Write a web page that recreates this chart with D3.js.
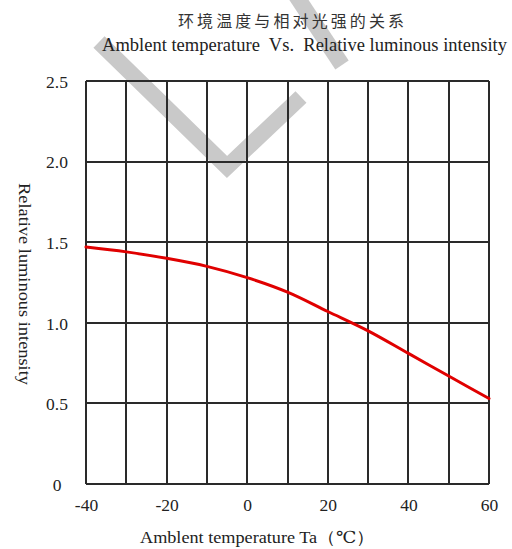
<!DOCTYPE html>
<html><head><meta charset="utf-8">
<script src="https://cdn.jsdelivr.net/npm/d3@7"></script>
<style>body{margin:0;background:#fff}svg{display:block}</style>
</head><body><svg id="c" width="512" height="549"></svg>
<script>
// ---- data ----
const temps = [-40, -30, -20, -10, 0, 10, 20, 30, 40, 50, 60];
const intensity = [1.47, 1.44, 1.40, 1.35, 1.28, 1.19, 1.07, 0.95, 0.81, 0.67, 0.53];
const xTicks = [-40, -20, 0, 20, 40, 60];
const xGrid = [-40, -30, -20, -10, 0, 10, 20, 30, 40, 50, 60];
const yTicks = [0, 0.5, 1.0, 1.5, 2.0, 2.5];
const yTickLabels = ["0", "0.5", "1.0", "1.5", "2.0", "2.5"];
const titleCn = "环境温度与相对光强的关系";
const titleEn = "Amblent temperature  Vs.  Relative luminous intensity";
const xTitle = "Amblent temperature Ta（℃）";
const yTitle = "Relative luminous intensity";

// ---- layout ----
const svg = d3.select("#c");
const x = d3.scaleLinear().domain([-40, 60]).range([86, 489]);
const y = d3.scaleLinear().domain([0, 2.5]).range([484, 81]);
const serif = "'Liberation Serif','DejaVu Serif',serif";
const gridColor = "#2a2a2a";

// watermark (decorative)
const wm = svg.append("g").attr("fill", "none").attr("stroke", "#c9c9c9")
  .attr("stroke-width", 16).attr("stroke-linejoin", "miter").attr("stroke-linecap", "butt");
wm.append("path").attr("d", "M99,42 L227,167 L301,97");
wm.append("path").attr("d", "M291,-12 L342,65");

// grid
const grid = svg.append("g").attr("stroke", gridColor).attr("stroke-width", 1.3).attr("shape-rendering", "crispEdges");
grid.selectAll("line.v").data(xGrid).join("line").attr("class", "v")
  .attr("x1", d => Math.round(x(d))).attr("x2", d => Math.round(x(d)))
  .attr("y1", y(2.5)).attr("y2", y(0));
grid.selectAll("line.h").data(yTicks).join("line").attr("class", "h")
  .attr("y1", d => Math.round(y(d))).attr("y2", d => Math.round(y(d)))
  .attr("x1", x(-40)).attr("x2", x(60));

// axes labels
const yAxis = svg.append("g").attr("transform", `translate(${x(-40)},0)`)
  .call(d3.axisLeft(y).tickValues(yTicks).tickSize(0).tickFormat((d, i) => yTickLabels[i]));
yAxis.attr("font-family", null).attr("font-size", null);
yAxis.select(".domain").remove();
yAxis.selectAll("text").attr("x", -29).attr("dy", "0.36em").attr("text-anchor", "middle")
  .style("font-family", serif).style("font-size", "17.5px").attr("fill", "#222");

const xAxis = svg.append("g").attr("transform", `translate(0,${y(0)})`)
  .call(d3.axisBottom(x).tickValues(xTicks).tickSize(0).tickFormat(d => String(d)));
xAxis.attr("font-family", null).attr("font-size", null);
xAxis.select(".domain").remove();
xAxis.selectAll("text").attr("y", 27).attr("dy", 0).attr("text-anchor", "middle")
  .style("font-family", serif).style("font-size", "17.5px").attr("fill", "#222");

// curve
const pts = temps.map((t, i) => [t, intensity[i]]);
svg.append("path").datum(pts)
  .attr("fill", "none").attr("stroke", "#e00000").attr("stroke-width", 3)
  .attr("stroke-linecap", "round")
  .attr("d", d3.line().x(d => x(d[0])).y(d => y(d[1])).curve(d3.curveMonotoneX));

// titles
svg.append("text").attr("x", 178).attr("y", 27)
  .style("font-family", "'Noto Sans CJK SC',sans-serif").style("font-size", "16px")
  .attr("fill", "#333").attr("textLength", 226).attr("lengthAdjust", "spacing")
  .text(titleCn);
svg.append("text").attr("x", 102).attr("y", 51).attr("xml:space", "preserve")
  .style("white-space", "pre")
  .style("font-family", serif).style("font-size", "18.5px").attr("fill", "#222")
  .attr("textLength", 405).attr("lengthAdjust", "spacingAndGlyphs")
  .text(titleEn);
svg.append("text").attr("x", 140).attr("y", 543)
  .style("font-family", serif).style("font-size", "16.5px").attr("fill", "#222")
  .attr("textLength", 235).attr("lengthAdjust", "spacingAndGlyphs")
  .text(xTitle);
svg.append("text").attr("transform", "translate(19,183) rotate(90)")
  .style("font-family", serif).style("font-size", "17px").attr("fill", "#222")
  .attr("textLength", 202).attr("lengthAdjust", "spacingAndGlyphs")
  .text(yTitle);
</script>
</body></html>
